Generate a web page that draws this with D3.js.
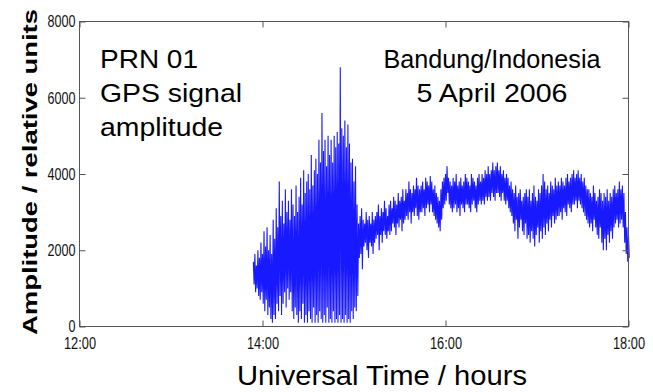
<!DOCTYPE html>
<html>
<head>
<meta charset="utf-8">
<script src="https://cdn.jsdelivr.net/npm/d3@7"></script>
<style>
  body { margin: 0; background: #fff; }
  svg { display: block; font-family: "Liberation Sans", Arial, sans-serif; }
</style>
</head>
<body>
<svg></svg>
<script>
// axis ticks
var xTicks = [12, 14, 16, 18];
var xTickLabels = ["12:00", "14:00", "16:00", "18:00"];
var yTicks = [0, 2000, 4000, 6000, 8000];

// samples: one per minute starting at 13:54 UT
var startHour = 13.9;
var stepMinutes = 1;

// upper / lower reading of the amplitude in each minute
var hiValues = [
  1700, 1900, 1600, 2000, 1800, 2200, 1900, 2500, 2100, 2600,
  2000, 2400, 1900, 2800, 2300, 3100, 2600, 3800, 2900, 3300,
  2700, 3600, 3000, 3300, 2800, 3600, 3200, 2900, 3700, 3000,
  3400, 3900, 3200, 4100, 3500, 3800, 4000, 3600, 4500, 3700,
  4100, 4400, 4000, 4900, 4300, 5600, 4600, 4900, 4200, 5000,
  4500, 4900, 4300, 5000, 4700, 5100, 4800, 6800, 5200, 5000,
  5400, 4700, 5300, 4800, 4300, 4400, 3800, 4200, 3200, 2700,
  2900, 3100, 2800, 2700, 3000, 2800, 2900, 2700, 3000, 2800,
  2900, 3000, 3200, 2900, 3100, 3000, 3300, 3100, 2900, 3200,
  3300, 3100, 3400, 3300, 3200, 3500, 3300, 3400, 3600, 3300,
  3600, 3500, 3800, 3600, 3500, 3700, 3600, 3900, 3700, 3600,
  3700, 3800, 3600, 3900, 3800, 3700, 3950, 3800, 3600, 3700,
  3500, 3400, 3300, 3600, 3800, 3900, 4000, 4200, 3900, 3800,
  3700, 3900, 3800, 4000, 3700, 3800, 3900, 3700, 3800, 4000,
  3900, 3800, 3700, 4000, 3900, 3800, 3700, 3900, 4000, 3800,
  4000, 3900, 4100, 4000, 4200, 4000, 4100, 4300, 4100, 4200,
  4300, 4100, 4200, 4000, 4100, 3900, 4000, 3900, 3700, 3800,
  3600, 3500, 3700, 3400, 3500, 3600, 3300, 3400, 3500, 3600,
  3400, 3600, 3300, 3500, 3700, 3400, 3300, 3600, 3500, 3700,
  4000, 3800, 3600, 3700, 3500, 3800, 3700, 3600, 3900, 3700,
  3800, 3700, 3900, 3800, 3700, 3900, 4000, 3800, 3900, 4000,
  4100, 3900, 4000, 4100, 3900, 4000, 3800, 3900, 3700, 3600,
  3600, 3500, 3400, 3700, 3500, 3300, 3400, 3600, 3500, 3300,
  3500, 3400, 3600, 3300, 3500, 3400, 3600, 3700, 3500, 3600,
  3800, 3600, 3700, 3500, 3000, 2600, 2400
];
var loValues = [
  1100, 900, 1000, 800, 700, 900, 600, 400, 700, 300,
  500, 200, 100, 300, 200, 600, 400, 800, 300, 600,
  900, 500, 1000, 700, 900, 400, 200, 500, 300, 100,
  400, 200, 600, 100, 300, 100, 400, 200, 100, 500,
  100, 300, 100, 400, 200, 100, 300, 100, 500, 100,
  200, 100, 400, 100, 200, 100, 300, 100, 200, 100,
  300, 100, 200, 100, 400, 200, 500, 400, 800, 1800,
  1900, 1500, 2100, 2200, 2000, 1800, 2200, 2100, 1900, 2200,
  2300, 2400, 2000, 2400, 2200, 2500, 2400, 2300, 2500, 2400,
  2500, 2700, 2600, 2400, 2700, 2600, 2800, 2500, 2700, 2800,
  2900, 2800, 3000, 2700, 3000, 2900, 3100, 2900, 2800, 3000,
  3000, 3100, 2900, 3100, 3200, 3000, 3200, 3000, 2900, 2800,
  2700, 2600, 2500, 2800, 3100, 3200, 3300, 3500, 3200, 3100,
  3000, 3100, 3200, 3000, 3100, 2900, 3200, 3100, 3000, 3200,
  3200, 3100, 3000, 3200, 3300, 3100, 3000, 3200, 3300, 3200,
  3300, 3200, 3400, 3300, 3400, 3300, 3500, 3400, 3300, 3500,
  3500, 3400, 3300, 3500, 3300, 3200, 3300, 3100, 3000, 2900,
  2700, 2500, 2800, 2300, 2600, 2800, 2500, 2400, 2700, 2300,
  2400, 2200, 2500, 2300, 2100, 2400, 2600, 2200, 2500, 2300,
  2600, 2400, 2700, 2500, 2800, 2600, 2900, 2700, 2800, 2900,
  2900, 3000, 2800, 3100, 3000, 2900, 3200, 3100, 3000, 3200,
  3200, 3300, 3100, 3300, 3200, 3100, 3000, 2900, 2800, 2700,
  2600, 2700, 2500, 2800, 2600, 2400, 2300, 2600, 2200, 2000,
  2300, 2000, 2400, 2200, 2500, 2300, 2600, 2700, 2800, 2600,
  2700, 2800, 2600, 2200, 1900, 1700, 1800
];

var svg = d3.select("svg")
    .attr("width", 653)
    .attr("height", 392);

var plot = {left: 79.5, right: 628.5, top: 21.5, bottom: 326.5};

var x = d3.scaleLinear().domain([12, 18]).range([plot.left, plot.right]);
var y = d3.scaleLinear().domain([0, 8000]).range([plot.bottom, plot.top]);

// zig-zag through the readings: high at the start of the minute, low half way
var points = [];
hiValues.forEach(function(h, i) {
  var t = startHour + i * stepMinutes / 60;
  points.push([t, h]);
  points.push([t + stepMinutes / 120, loValues[i]]);
});

var line = d3.line()
    .x(function(d) { return x(d[0]); })
    .y(function(d) { return y(d[1]); });

svg.append("path")
    .datum(points)
    .attr("d", line)
    .attr("fill", "none")
    .attr("stroke", "#0000ff")
    .attr("stroke-opacity", 0.9)
    .attr("stroke-width", 1.1);

// box with inward ticks on all sides
var frameColor = "#555";
svg.append("rect")
    .attr("x", plot.left).attr("y", plot.top)
    .attr("width", plot.right - plot.left)
    .attr("height", plot.bottom - plot.top)
    .attr("fill", "none")
    .attr("stroke", frameColor);

var axisBottom = svg.append("g")
    .attr("transform", "translate(0," + plot.bottom + ")")
    .call(d3.axisBottom(x).tickValues(xTicks).tickSizeInner(-6).tickSizeOuter(0)
      .tickFormat(function(d, i) { return xTickLabels[i]; }));
var axisTop = svg.append("g")
    .attr("transform", "translate(0," + plot.top + ")")
    .call(d3.axisTop(x).tickValues(xTicks).tickSizeInner(-6).tickSizeOuter(0).tickFormat(""));
var axisLeft = svg.append("g")
    .attr("transform", "translate(" + plot.left + ",0)")
    .call(d3.axisLeft(y).tickValues(yTicks).tickSizeInner(-6).tickSizeOuter(0).tickFormat(d3.format("d")));
var axisRight = svg.append("g")
    .attr("transform", "translate(" + plot.right + ",0)")
    .call(d3.axisRight(y).tickValues(yTicks).tickSizeInner(-6).tickSizeOuter(0).tickFormat(""));

[axisBottom, axisTop, axisLeft, axisRight].forEach(function(a) {
  a.select(".domain").remove();
  a.selectAll("line").attr("stroke", frameColor);
});

// condensed tick labels
axisBottom.selectAll("text")
    .attr("y", 11)
    .attr("dy", "0.71em")
    .attr("fill", "#111")
    .attr("textLength", 32)
    .attr("lengthAdjust", "spacingAndGlyphs")
    .style("font-size", "16px");

axisLeft.selectAll("text")
    .attr("x", -4)
    .attr("fill", "#111")
    .attr("textLength", function(d) { return String(d).length * 7; })
    .attr("lengthAdjust", "spacingAndGlyphs")
    .style("font-size", "17px");

// axis titles
svg.append("text")
    .attr("x", 382)
    .attr("y", 385)
    .attr("text-anchor", "middle")
    .attr("textLength", 290)
    .attr("lengthAdjust", "spacingAndGlyphs")
    .style("font-size", "27px")
    .text("Universal Time / hours");

svg.append("text")
    .attr("transform", "translate(37,172) rotate(-90)")
    .attr("text-anchor", "middle")
    .attr("textLength", 326)
    .attr("lengthAdjust", "spacingAndGlyphs")
    .style("font-size", "21px")
    .style("font-weight", "bold")
    .text("Amplitude / relative units");

// annotations
var leftNotes = [["PRN 01", 68, 98], ["GPS signal", 102, 142], ["amplitude", 136, 123]];
leftNotes.forEach(function(n) {
  svg.append("text")
      .attr("x", 100)
      .attr("y", n[1])
      .attr("textLength", n[2])
      .attr("lengthAdjust", "spacingAndGlyphs")
      .style("font-size", "25px")
      .text(n[0]);
});

var rightNotes = [["Bandung/Indonesia", 68, 217], ["5 April 2006", 102, 151]];
rightNotes.forEach(function(n) {
  svg.append("text")
      .attr("x", 492)
      .attr("y", n[1])
      .attr("text-anchor", "middle")
      .attr("textLength", n[2])
      .attr("lengthAdjust", "spacingAndGlyphs")
      .style("font-size", "25px")
      .text(n[0]);
});
</script>
</body>
</html>
